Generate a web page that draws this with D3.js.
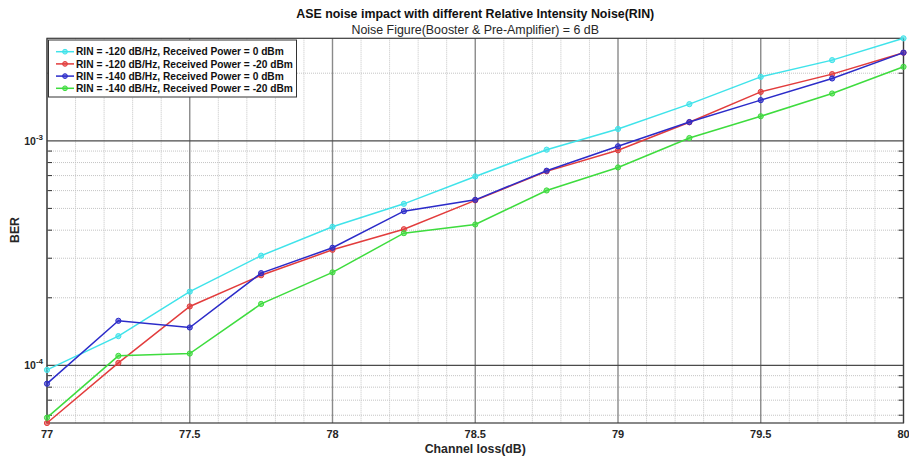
<!DOCTYPE html>
<html><head><meta charset="utf-8">
<script src="https://cdn.jsdelivr.net/npm/d3@7"></script>
<style>body{margin:0;background:#fff}svg{display:block}text{font-family:"Liberation Sans",Arial,sans-serif}</style>
</head><body><svg id="c" width="909" height="459"></svg>
<script>
const xValues = [77, 77.25, 77.5, 77.75, 78, 78.25, 78.5, 78.75, 79, 79.25, 79.5, 79.75, 80];
const seriesNames = [
  "RIN = -120 dB/Hz, Received Power = 0 dBm",
  "RIN = -120 dB/Hz, Received Power = -20 dBm",
  "RIN = -140 dB/Hz, Received Power = 0 dBm",
  "RIN = -140 dB/Hz, Received Power = -20 dBm"
];
const berRin120P0 = [9.55e-5, 1.35e-4, 2.13e-4, 3.08e-4, 4.14e-4, 5.24e-4, 6.94e-4, 9.13e-4, 1.129e-3, 1.456e-3, 1.926e-3, 2.287e-3, 2.86e-3];
const berRin120P20 = [5.54e-5, 1.026e-4, 1.83e-4, 2.52e-4, 3.27e-4, 4.04e-4, 5.43e-4, 7.31e-4, 9.07e-4, 1.209e-3, 1.651e-3, 1.981e-3, 2.466e-3];
const berRin140P0 = [8.29e-5, 1.58e-4, 1.475e-4, 2.575e-4, 3.34e-4, 4.86e-4, 5.46e-4, 7.36e-4, 9.45e-4, 1.212e-3, 1.517e-3, 1.895e-3, 2.47e-3];
const berRin140P20 = [5.85e-5, 1.103e-4, 1.129e-4, 1.878e-4, 2.596e-4, 3.88e-4, 4.24e-4, 6.01e-4, 7.61e-4, 1.029e-3, 1.286e-3, 1.624e-3, 2.135e-3];
const xTickValues = [77, 77.5, 78, 78.5, 79, 79.5, 80];
const xTickLabels = ["77", "77.5", "78", "78.5", "79", "79.5", "80"];
const yTickExponents = [-4, -3];
const titleText = "ASE noise impact with different Relative Intensity Noise(RIN)";
const subtitleText = "Noise Figure(Booster & Pre-Amplifier) = 6 dB";
const xLabelText = "Channel loss(dB)";
const yLabelText = "BER";

const colors = ["#3fe3ea", "#e23c3c", "#2b2bc9", "#3edc3e"];
const allSeries = [berRin120P0, berRin120P20, berRin140P0, berRin140P20];

const L = 47, R = 903.5, T = 38.3, B = 423;
const svg = d3.select("#c");
const allVals = allSeries.flat();
const x = d3.scaleLinear().domain([77, 80]).range([L, R]);
const y = d3.scaleLog().domain(d3.extent(allVals)).range([B, T]);
const [y0, y1] = y.domain();

const g = svg.append("g");
// minor x grid
const minorX = d3.range(77, 80.0001, 0.1).map(v => +v.toFixed(2)).filter(v => Math.abs(v*2 - Math.round(v*2)) > 1e-6);
g.selectAll(".mx").data(minorX).join("line")
  .attr("x1", d => x(d)).attr("x2", d => x(d)).attr("y1", T).attr("y2", B)
  .attr("stroke", "#c4c4c4").attr("stroke-width", 1).attr("stroke-dasharray", "1,1");
// minor y grid
const minorY = [];
for (let e = -5; e <= -2; e++) for (let m = 2; m <= 9; m++) { const v = m * Math.pow(10, e); if (v > y0 && v < y1) minorY.push(v); }
g.selectAll(".my").data(minorY).join("line")
  .attr("x1", L).attr("x2", R).attr("y1", d => y(d)).attr("y2", d => y(d))
  .attr("stroke", "#c4c4c4").attr("stroke-width", 1).attr("stroke-dasharray", "1,1");
// minor y ticks both sides
g.selectAll(".mtl").data(minorY).join("line")
  .attr("x1", L).attr("x2", L + 5).attr("y1", d => y(d)).attr("y2", d => y(d))
  .attr("stroke", "#333").attr("stroke-width", 1);
g.selectAll(".mtr").data(minorY).join("line")
  .attr("x1", R - 5).attr("x2", R).attr("y1", d => y(d)).attr("y2", d => y(d))
  .attr("stroke", "#333").attr("stroke-width", 1);
// major x grid
g.selectAll(".Mx").data(xTickValues).join("line")
  .attr("x1", d => x(d)).attr("x2", d => x(d)).attr("y1", T).attr("y2", B)
  .attr("stroke", "#8a8a8a").attr("stroke-width", 1.4);
// major y grid
g.selectAll(".My").data(yTickExponents).join("line")
  .attr("x1", L).attr("x2", R).attr("y1", d => y(Math.pow(10, d))).attr("y2", d => y(Math.pow(10, d)))
  .attr("stroke", "#4a4a4a").attr("stroke-width", 1.2);

// box
svg.append("rect").attr("x", L).attr("y", T).attr("width", R - L).attr("height", B - T)
  .attr("fill", "none").attr("stroke", "#3a3a3a").attr("stroke-width", 1.2);

// series
const line = d3.line().x((d, i) => x(xValues[i])).y(d => y(d));
allSeries.forEach((s, k) => {
  svg.append("path").datum(s).attr("d", line).attr("fill", "none")
    .attr("stroke", colors[k]).attr("stroke-width", 1.5);
  svg.selectAll(".p" + k).data(s).join("circle")
    .attr("cx", (d, i) => x(xValues[i])).attr("cy", d => y(d)).attr("r", 2.6)
    .attr("fill", colors[k]).attr("fill-opacity", 0.6).attr("stroke", colors[k]).attr("stroke-width", 1);
});

// x tick labels
svg.selectAll(".xt").data(xTickValues).join("text")
  .attr("x", d => x(d)).attr("y", 438).attr("text-anchor", "middle")
  .attr("font-size", 11).attr("font-weight", "bold").attr("fill", "#262626")
  .text((d, i) => xTickLabels[i]);
// y tick labels
yTickExponents.forEach(e => {
  const t = svg.append("text").attr("x", 43).attr("y", y(Math.pow(10, e)) + 4)
    .attr("text-anchor", "end").attr("font-size", 10.5).attr("font-weight", "bold").attr("fill", "#262626");
  t.append("tspan").text("10");
  t.append("tspan").attr("dy", -5).attr("font-size", 8).text(String(e));
});
// axis labels
svg.append("text").attr("x", (L + R) / 2).attr("y", 453).attr("text-anchor", "middle")
  .attr("font-size", 12.3).attr("font-weight", "bold").attr("fill", "#262626").text(xLabelText);
svg.append("text").attr("transform", `translate(19,230) rotate(-90)`).attr("text-anchor", "middle")
  .attr("font-size", 12.3).attr("font-weight", "bold").attr("fill", "#262626").text(yLabelText);
// title
svg.append("text").attr("x", (L + R) / 2).attr("y", 18).attr("text-anchor", "middle")
  .attr("font-size", 12.4).attr("font-weight", "bold").attr("fill", "#111").text(titleText);
svg.append("text").attr("x", (L + R) / 2).attr("y", 34).attr("text-anchor", "middle")
  .attr("font-size", 12.4).attr("fill", "#262626").text(subtitleText);

// legend
const lg = svg.append("g");
lg.append("rect").attr("x", 48.5).attr("y", 40).attr("width", 248).attr("height", 57)
  .attr("fill", "#fff").attr("stroke", "#333").attr("stroke-width", 1);
seriesNames.forEach((nm, k) => {
  const yy = 51.7 + k * 12.2;
  lg.append("line").attr("x1", 56).attr("x2", 74).attr("y1", yy).attr("y2", yy)
    .attr("stroke", colors[k]).attr("stroke-width", 1.5);
  lg.append("circle").attr("cx", 65).attr("cy", yy).attr("r", 2.4)
    .attr("fill", colors[k]).attr("fill-opacity", 0.6).attr("stroke", colors[k]);
  lg.append("text").attr("x", 76).attr("y", yy + 3.6).attr("font-size", 10.2).attr("font-weight", "bold")
    .attr("fill", "#111").text(nm);
});
</script></body></html>
